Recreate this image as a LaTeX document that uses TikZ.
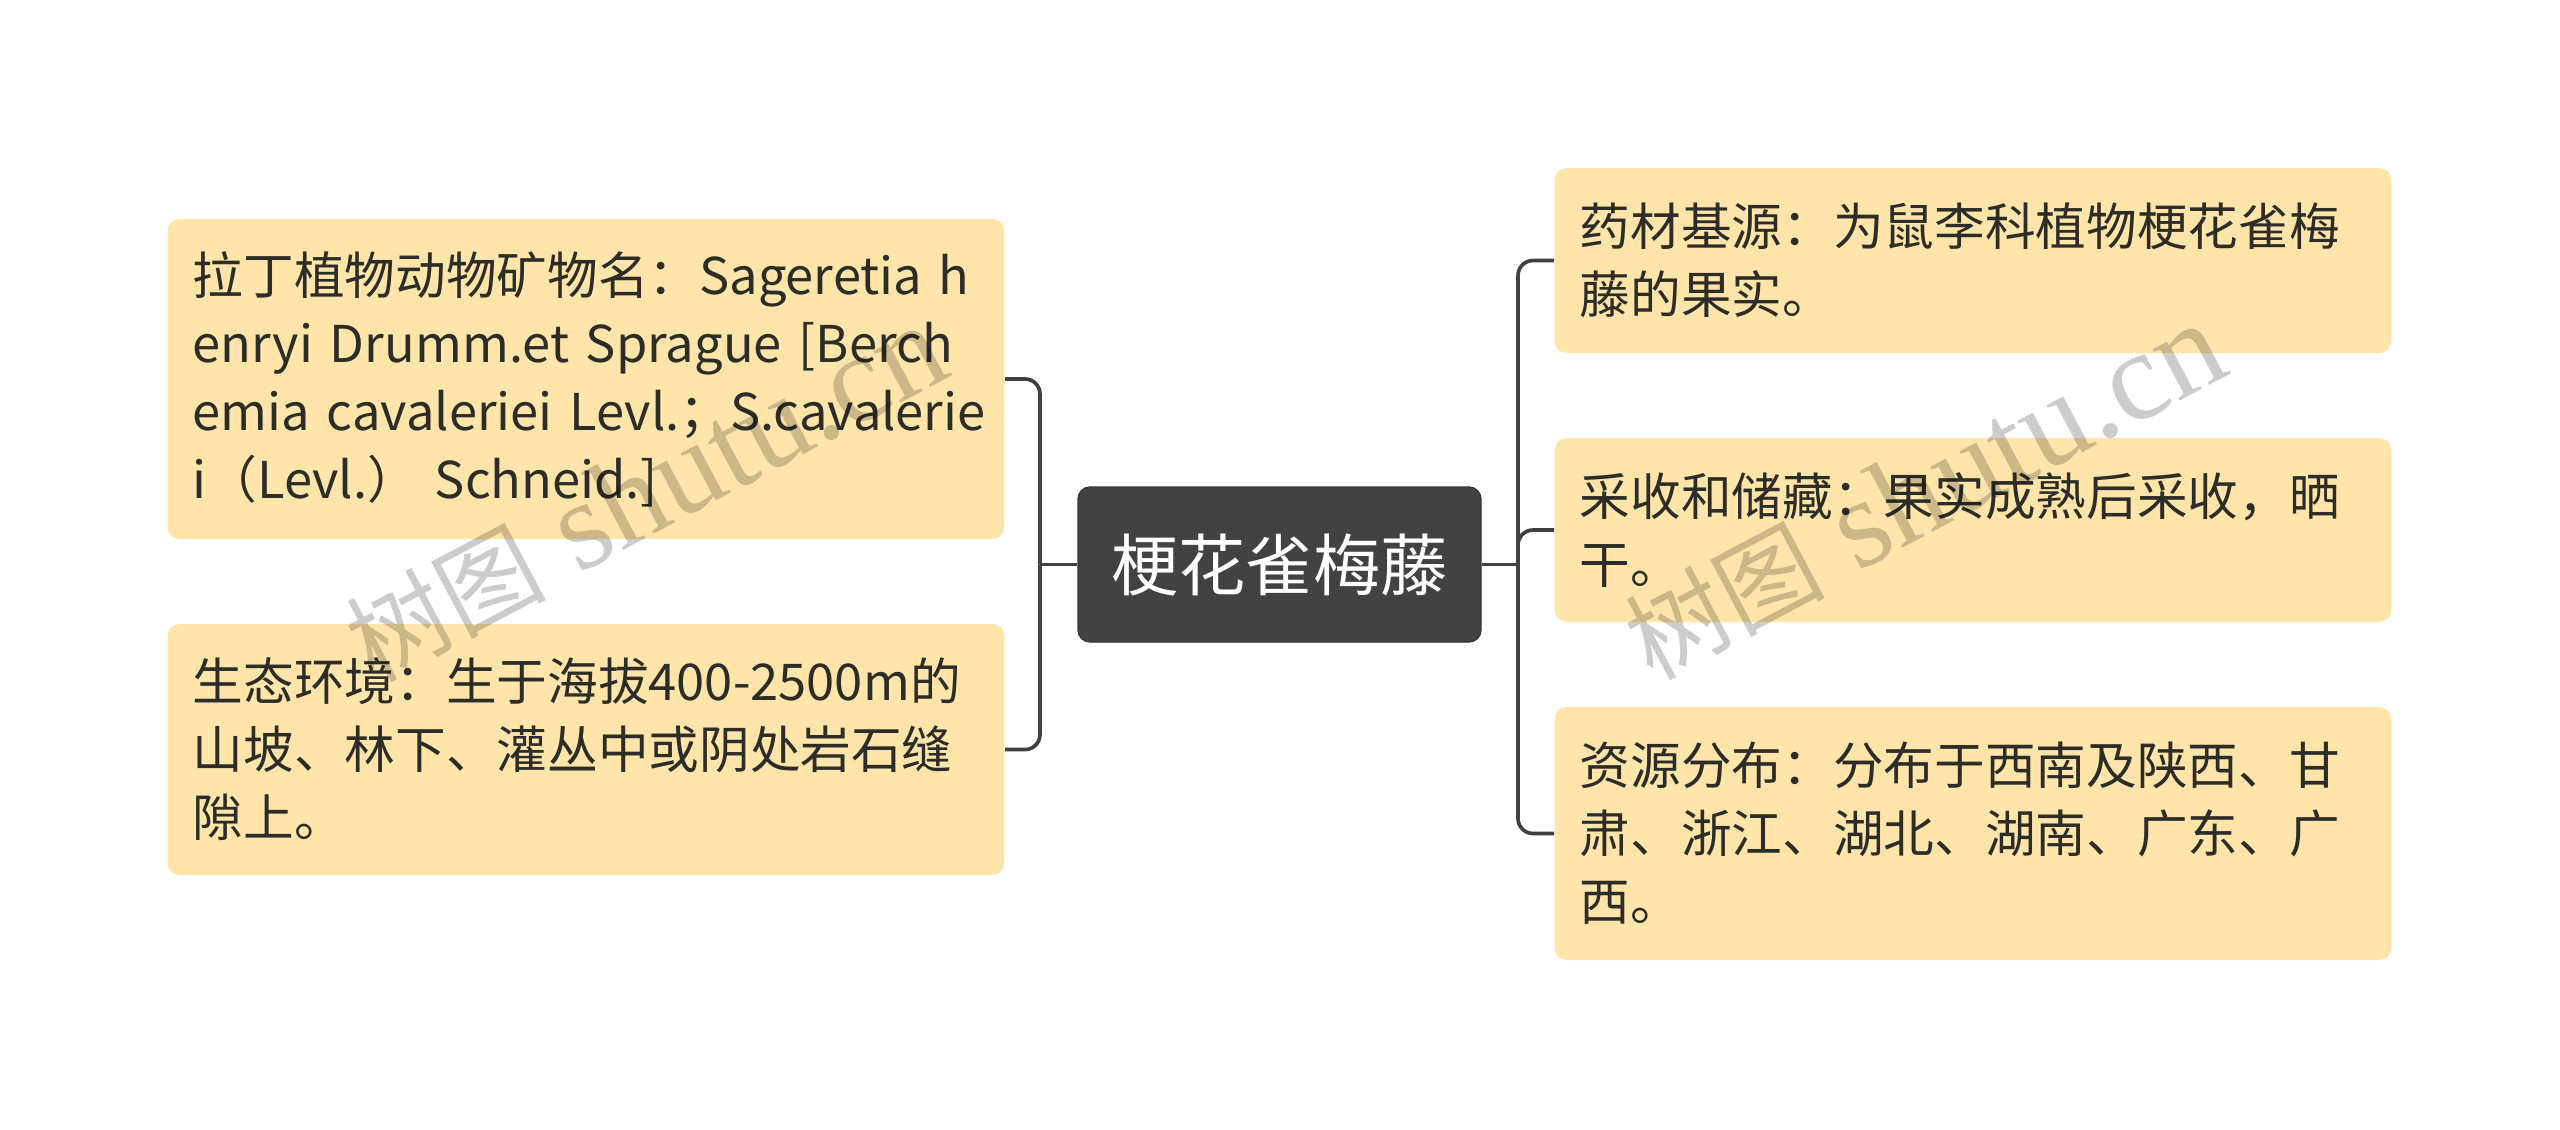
\documentclass[tikz,border=0pt]{standalone}
\usepackage{fontspec}
\setmainfont{Noto Sans CJK SC}
\newfontfamily\wmcjk{Noto Sans CJK SC}
\newfontfamily\wmlat{Liberation Serif}
\definecolor{leafc}{RGB}{255,229,170}
\definecolor{rootc}{RGB}{66,66,66}
\definecolor{linec}{RGB}{64,64,64}
\definecolor{textc}{RGB}{45,45,40}
\begin{document}
\begin{tikzpicture}[x=0.3pt,y=-0.3pt,
  leaf/.style={rectangle, rounded corners=3.6pt, fill=leafc, text=textc,
    font=\fontsize{15.2pt}{20.4pt}\selectfont, align=left,
    text width=236pt, inner xsep=7.5pt, inner ysep=0pt},
  root/.style={rectangle, rounded corners=3.6pt, fill=rootc, draw=rootc!80!black, line width=0.4pt,
    text=white, font=\fontsize{20.2pt}{24pt}\selectfont,
    minimum width=120.9pt, minimum height=46.5pt, inner sep=0pt},
  conn/.style={draw=linec, line width=1.1pt},
  wm/.style={text=black, text opacity=0.2, rotate=28, inner sep=0pt}]
\useasboundingbox (0,0) rectangle (2560,1129);
\fill[white] (0,0) rectangle (2560,1129);

\node[root] (C) at (1279.5,564.5) {梗花雀梅藤};

\node[leaf, minimum height=96pt] (L1) at (586,379) {\mbox{拉丁植物动物矿物名：Sageretia h}\\\mbox{enryi Drumm.et Sprague [Berch}\\\mbox{emia cavaleriei Levl.；S.cavalerie}\\\mbox{i（Levl.）\ Schneid.]}};
\node[leaf, minimum height=75.3pt] (L2) at (586,749.5) {生态环境：生于海拔400-2500m的\\山坡、林下、灌丛中或阴处岩石缝\\隙上。};

\node[leaf, minimum height=55.5pt] (R1) at (1973,260.5) {药材基源：为鼠李科植物梗花雀梅\\藤的果实。};
\node[leaf, minimum height=55.2pt] (R2) at (1973,530) {采收和储藏：果实成熟后采收，晒\\干。};
\node[leaf, minimum height=75.9pt] (R3) at (1973,833.5) {资源分布：分布于西南及陕西、甘\\肃、浙江、湖北、湖南、广东、广\\西。};

\coordinate (jL) at (1040,564.5);
\coordinate (jR) at (1518,564.5);

\draw[conn] (C.west) -- (jL);
\draw[conn, rounded corners=4.5pt] (jL) |- (L1.east);
\draw[conn, rounded corners=4.5pt] (jL) |- (L2.east);

\draw[conn] (C.east) -- (jR);
\draw[conn, rounded corners=4.5pt] (jR) |- (R1.west);
\draw[conn, rounded corners=4.5pt] (jR) |- (R2.west);
\draw[conn, rounded corners=4.5pt] (jR) |- (R3.west);

\node[wm] (wm1) at (645,494) {\wmcjk\fontsize{30pt}{30pt}\selectfont 树图\wmlat\fontsize{38pt}{38pt}\selectfont\ shutu.cn};
\node[wm] (wm2) at (1924,492) {\wmcjk\fontsize{30pt}{30pt}\selectfont 树图\wmlat\fontsize{38pt}{38pt}\selectfont\ shutu.cn};
\end{tikzpicture}
\end{document}
